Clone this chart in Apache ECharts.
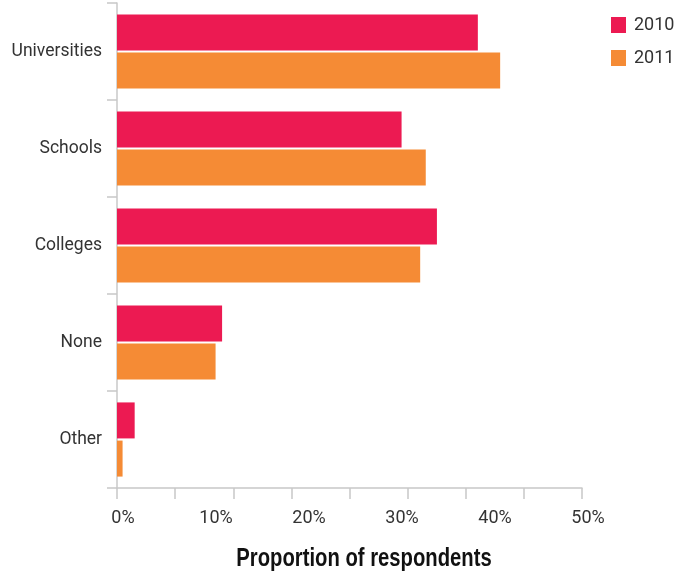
<!DOCTYPE html>
<html>
<head>
<meta charset="utf-8">
<script src="https://cdn.jsdelivr.net/npm/echarts@6/dist/echarts.min.js"></script>
<style>
  html, body { margin: 0; padding: 0; background: #fff; }
  #chart { width: 691px; height: 576px; }
</style>
</head>
<body>
<div id="chart"></div>
<script>
// Where respondents were trained, share of respondents by year
const categories = ['Universities', 'Schools', 'Colleges', 'None', 'Other'];
const values2010 = [38.8, 30.6, 34.4, 11.3, 1.9];
const values2011 = [41.2, 33.2, 32.6, 10.6, 0.6];
const seriesNames = ['2010', '2011'];
const xTickLabels = ['0%', '10%', '20%', '30%', '40%', '50%'];
const axisTitle = 'Proportion of respondents';

const RED = '#EC1A52';
const ORANGE = '#F58B35';
const AXIS_GREY = '#c8c8c8';
const TEXT = '#333333';
const FONT = 'Roboto, "Liberation Sans", Arial, sans-serif';

const chart = echarts.init(document.getElementById('chart'), null, { renderer: 'canvas' });

chart.setOption({
  animation: false,
  backgroundColor: '#ffffff',
  graphic: [
    {
      // axis title, set tall and narrow
      type: 'text',
      x: 364,
      y: 572,
      scaleX: 0.81,
      style: {
        text: axisTitle,
        font: 'bold 25px "Liberation Sans", Arial, sans-serif',
        fill: '#111',
        textAlign: 'center',
        textVerticalAlign: 'bottom'
      }
    }
  ],
  legend: {
    orient: 'vertical',
    left: 611,
    top: 16,
    padding: 0,
    itemWidth: 15,
    itemHeight: 16,
    itemGap: 15,
    icon: 'rect',
    data: seriesNames,
    textStyle: {
      fontFamily: FONT,
      fontSize: 18,
      color: TEXT,
      padding: [0, 0, 0, 3]
    }
  },
  grid: {
    left: 117,
    right: 109,
    top: 3,
    bottom: 88,
    containLabel: false
  },
  xAxis: [
    {
      // tick marks every eighth of the range
      type: 'value',
      min: 0,
      max: 50,
      interval: 6.25,
      axisLine: { show: true, lineStyle: { color: AXIS_GREY, width: 1.5 } },
      axisTick: { show: true, length: 11, lineStyle: { color: AXIS_GREY, width: 1.5 } },
      axisLabel: { show: false },
      splitLine: { show: false }
    },
    {
      // percentage labels every 10%
      type: 'value',
      position: 'bottom',
      min: 0,
      max: 50,
      interval: 10,
      axisLine: { show: false },
      axisTick: { show: false },
      splitLine: { show: false },
      axisLabel: {
        margin: 21,
        fontFamily: FONT,
        fontSize: 18,
        color: TEXT,
        padding: [0, 0, 0, 12],
        formatter: (v) => xTickLabels[Math.round(v / 10)]
      }
    }
  ],
  yAxis: {
    type: 'category',
    data: categories,
    inverse: true,
    axisLine: { show: true, lineStyle: { color: AXIS_GREY, width: 1.5 } },
    axisTick: { show: true, length: 10, alignWithLabel: false, lineStyle: { color: AXIS_GREY, width: 1.5 } },
    axisLabel: {
      margin: 15,
      fontFamily: FONT,
      fontSize: 17.5,
      color: TEXT,
      padding: [6, 0, 0, 0]
    },
    splitLine: { show: false }
  },
  series: [
    {
      name: seriesNames[0],
      type: 'bar',
      xAxisIndex: 0,
      data: values2010,
      barWidth: 36,
      barGap: '6%',
      itemStyle: { color: RED }
    },
    {
      name: seriesNames[1],
      type: 'bar',
      xAxisIndex: 0,
      data: values2011,
      barWidth: 36,
      barGap: '6%',
      itemStyle: { color: ORANGE }
    }
  ]
});
</script>
</body>
</html>
